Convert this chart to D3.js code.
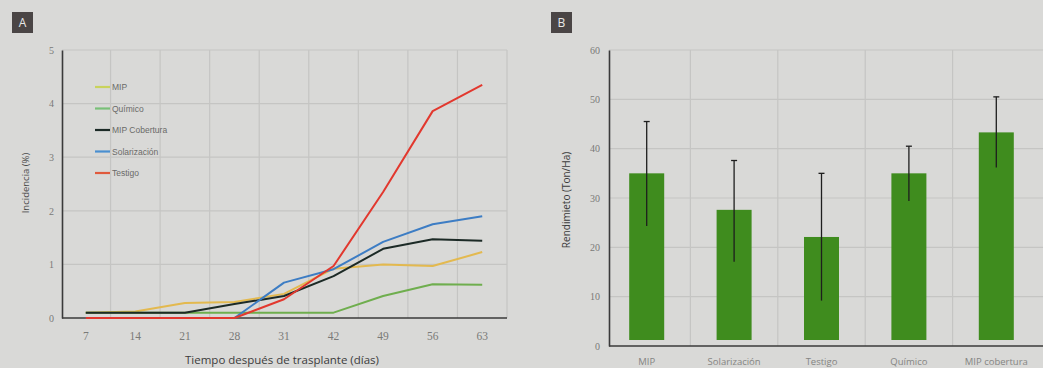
<!DOCTYPE html>
<html>
<head>
<meta charset="utf-8">
<script src="https://cdn.jsdelivr.net/npm/d3@7"></script>
<style>
  html, body { margin: 0; padding: 0; background: #d9d9d7; }
  svg { display: block; }
</style>
</head>
<body>
<svg id="chart" width="1043" height="368"></svg>
<script>
// ---- Panel A: incidence over time ----
const days = ["7", "14", "21", "28", "31", "42", "49", "56", "63"];
const seriesNames = ["MIP", "Químico", "MIP Cobertura", "Solarización", "Testigo"];
const mip          = [0.10, 0.12, 0.28, 0.30, 0.45, 0.92, 1.00, 0.97, 1.23];
const quimico      = [0.10, 0.10, 0.10, 0.10, 0.10, 0.10, 0.41, 0.63, 0.62];
const mipCobertura = [0.10, 0.10, 0.10, 0.26, 0.41, 0.78, 1.29, 1.47, 1.44];
const solarizacion = [0.00, 0.00, 0.00, 0.00, 0.66, 0.91, 1.42, 1.75, 1.90];
const testigo      = [0.00, 0.00, 0.00, 0.00, 0.35, 0.97, 2.35, 3.86, 4.35];
const incidenceTicks = [0, 1, 2, 3, 4, 5];

// ---- Panel B: yield by treatment ----
const treatments = ["MIP", "Solarización", "Testigo", "Químico", "MIP cobertura"];
const yieldMean  = [35.0, 27.6, 22.1, 35.0, 43.3];
const yieldHigh  = [45.5, 37.6, 35.0, 40.5, 50.5];
const yieldLow   = [24.3, 17.1, 9.2, 29.4, 36.2];
const yieldTicks = [0, 10, 20, 30, 40, 50, 60];

const lineColors = ["#e3b94f", "#6fae4e", "#1c2a26", "#3d7dc4", "#e2382e"];
const legendColors = ["#c9d35c", "#79c078", "#1c2a26", "#4a8fd0", "#e05a3c"];
const allSeries = [mip, quimico, mipCobertura, solarizacion, testigo];

const svg = d3.select("#chart");
const gridColor = "#c5c5c3";
const axisColor = "#3a3a3a";
const tickColor = "#7a7a78";

// panel tags
function panelTag(x, y, letter) {
  svg.append("rect").attr("x", x).attr("y", y).attr("width", 21).attr("height", 21)
    .attr("fill", "#4a4545");
  svg.append("text").attr("x", x + 10.5).attr("y", y + 15).attr("text-anchor", "middle")
    .attr("font-family", "Open Sans, sans-serif").attr("font-size", 12).attr("fill", "#e8e8e8")
    .text(letter);
}
panelTag(12, 12, "A");
panelTag(551, 12, "B");

// ===== Panel A =====
const xA = d3.scaleBand().domain(days).range([61, 507]);
const yA = d3.scaleLinear().domain([0, 5]).range([318, 50]);
const gA = svg.append("g");

// grid
gA.selectAll(".vgrid").data(days.slice(1)).join("line")
  .attr("x1", d => xA(d)).attr("x2", d => xA(d))
  .attr("y1", yA(5)).attr("y2", yA(0))
  .attr("stroke", gridColor).attr("stroke-width", 1.2);
gA.append("line").attr("x1", xA.range()[1]).attr("x2", xA.range()[1])
  .attr("y1", yA(5)).attr("y2", yA(0)).attr("stroke", gridColor).attr("stroke-width", 1.2);
gA.selectAll(".hgrid").data(incidenceTicks.slice(1)).join("line")
  .attr("x1", 62).attr("x2", xA.range()[1])
  .attr("y1", d => yA(d)).attr("y2", d => yA(d))
  .attr("stroke", gridColor).attr("stroke-width", 1.2);

// axes
const axAx = gA.append("g").attr("transform", `translate(0,${yA(0)})`)
  .call(d3.axisBottom(xA).tickSize(0).tickPadding(14));
axAx.select(".domain").attr("stroke", axisColor).attr("stroke-width", 1.6)
  .attr("d", `M62,0H${xA.range()[1]}`);
axAx.selectAll("text").attr("font-family", "Liberation Serif, serif").attr("font-size", 11.5)
  .attr("fill", tickColor);

const ayAx = gA.append("g").attr("transform", "translate(62,0)")
  .call(d3.axisLeft(yA).tickValues(incidenceTicks).tickFormat(d3.format("d")).tickSize(0).tickPadding(8));
ayAx.select(".domain").attr("stroke", axisColor).attr("stroke-width", 1.6);
ayAx.selectAll("text").attr("font-family", "Liberation Serif, serif").attr("font-size", 10)
  .attr("fill", tickColor);

// lines
const lineGen = d3.line().x((d, i) => xA(days[i]) + xA.bandwidth() / 2).y(d => yA(d));
gA.selectAll(".series").data(allSeries).join("path")
  .attr("d", d => lineGen(d))
  .attr("fill", "none")
  .attr("stroke", (d, i) => lineColors[i])
  .attr("stroke-width", 2)
  .attr("stroke-linejoin", "round");

// legend
const legA = gA.append("g");
seriesNames.forEach((name, i) => {
  const y = 87 + i * 21.5;
  legA.append("line").attr("x1", 95).attr("x2", 110).attr("y1", y).attr("y2", y)
    .attr("stroke", legendColors[i]).attr("stroke-width", 2.2);
  legA.append("text").attr("x", 112).attr("y", y + 3)
    .attr("font-family", "Liberation Sans Narrow, Liberation Sans, sans-serif")
    .attr("font-size", 8.5).attr("fill", "#6a6a68").text(name);
});

// titles
gA.append("text").attr("x", 282).attr("y", 364).attr("text-anchor", "middle")
  .attr("font-family", "Open Sans, sans-serif").attr("font-size", 11.5).attr("fill", "#3c3c3c")
  .text("Tiempo después de trasplante (días)");
gA.append("text").attr("transform", "translate(29,183) rotate(-90)").attr("text-anchor", "middle")
  .attr("font-family", "Open Sans, sans-serif").attr("font-size", 9.5).attr("fill", "#4a4a4a")
  .text("Incidencia (%)");

// ===== Panel B =====
const xB = d3.scaleBand().domain(treatments).range([603, 1040]);
const yB = d3.scaleLinear().domain([0, 60]).range([346, 50]);
const gB = svg.append("g");
const barGap = 6;

gB.selectAll(".vgrid").data(treatments.slice(1)).join("line")
  .attr("x1", d => xB(d)).attr("x2", d => xB(d))
  .attr("y1", yB(60)).attr("y2", yB(0))
  .attr("stroke", gridColor).attr("stroke-width", 1.2);
gB.selectAll(".hgrid").data(yieldTicks.slice(1)).join("line")
  .attr("x1", 609).attr("x2", 1043)
  .attr("y1", d => yB(d)).attr("y2", d => yB(d))
  .attr("stroke", gridColor).attr("stroke-width", 1.2);

const bxAx = gB.append("g").attr("transform", `translate(0,${yB(0)})`)
  .call(d3.axisBottom(xB).tickSize(0).tickPadding(12));
bxAx.select(".domain").attr("stroke", axisColor).attr("stroke-width", 1.6)
  .attr("d", "M609,0H1043");
bxAx.selectAll("text").attr("font-family", "Open Sans, sans-serif").attr("font-size", 9.5)
  .attr("fill", "#858583");

const byAx = gB.append("g").attr("transform", "translate(609,0)")
  .call(d3.axisLeft(yB).tickValues(yieldTicks).tickSize(0).tickPadding(9));
byAx.select(".domain").attr("stroke", axisColor).attr("stroke-width", 1.6);
byAx.selectAll("text").attr("font-family", "Liberation Serif, serif").attr("font-size", 10)
  .attr("fill", tickColor);

const barW = 35;
gB.selectAll(".bar").data(treatments).join("rect")
  .attr("x", d => xB(d) + xB.bandwidth() / 2 - barW / 2)
  .attr("width", barW)
  .attr("y", (d, i) => yB(yieldMean[i]))
  .attr("height", (d, i) => yB(0) - barGap - yB(yieldMean[i]))
  .attr("fill", "#3f8c1e");

// error bars
const capW = 6;
treatments.forEach((t, i) => {
  const cx = xB(t) + xB.bandwidth() / 2;
  gB.append("line").attr("x1", cx).attr("x2", cx)
    .attr("y1", yB(yieldHigh[i])).attr("y2", yB(yieldLow[i]))
    .attr("stroke", "#1e1e1e").attr("stroke-width", 1.3);
  gB.append("line").attr("x1", cx - capW / 2).attr("x2", cx + capW / 2)
    .attr("y1", yB(yieldHigh[i])).attr("y2", yB(yieldHigh[i]))
    .attr("stroke", "#1e1e1e").attr("stroke-width", 1.3);
});

gB.append("text").attr("transform", "translate(570,200) rotate(-90)").attr("text-anchor", "middle")
  .attr("font-family", "Open Sans, sans-serif").attr("font-size", 10).attr("fill", "#3c3c3c")
  .text("Rendimieto (Ton/Ha)");
</script>
</body>
</html>
